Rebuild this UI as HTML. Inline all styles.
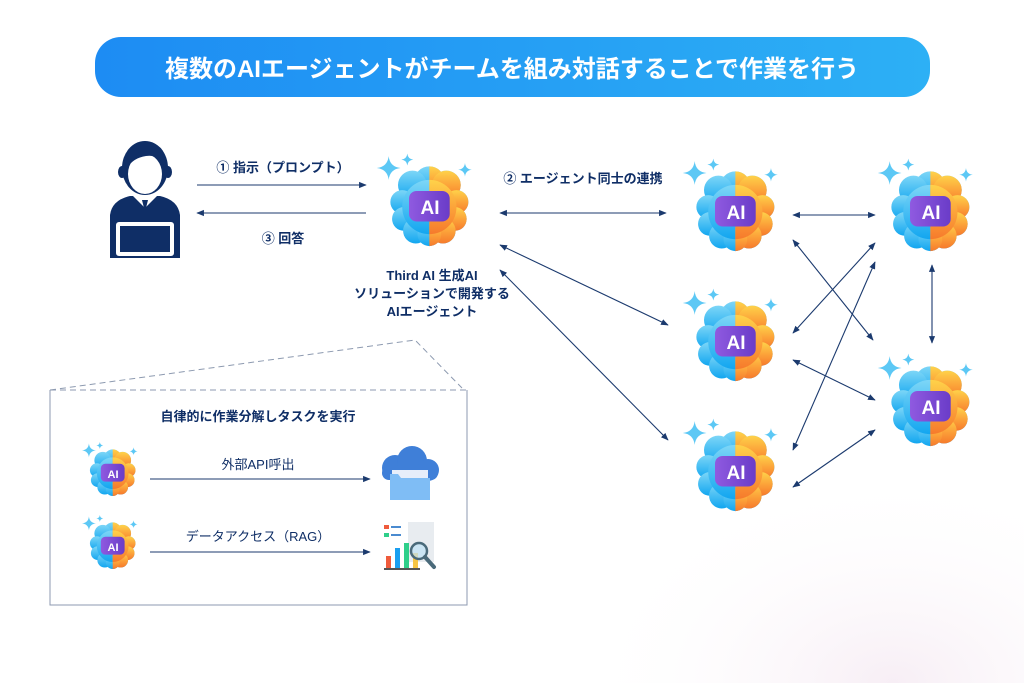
<!DOCTYPE html>
<html><head><meta charset="utf-8">
<style>
html,body{margin:0;padding:0;}
body{width:1024px;height:683px;overflow:hidden;background:#fff;position:relative;font-family:"Liberation Sans","Noto Sans CJK JP",sans-serif;}
svg{position:absolute;left:0;top:0;}
</style></head><body>
<svg width="1024" height="683" viewBox="0 0 1024 683" xmlns="http://www.w3.org/2000/svg">
<defs>
  <linearGradient id="hdr" x1="0" y1="0" x2="1" y2="0">
    <stop offset="0" stop-color="#1d8cf3"/><stop offset="1" stop-color="#2db0f5"/>
  </linearGradient>
  <linearGradient id="blue" x1="0" y1="0" x2="0" y2="1">
    <stop offset="0" stop-color="#7dd6f7"/><stop offset="1" stop-color="#12a6f0"/>
  </linearGradient>
  <linearGradient id="orange" x1="0" y1="0" x2="0" y2="1">
    <stop offset="0" stop-color="#fed24a"/><stop offset="0.5" stop-color="#fca43a"/><stop offset="1" stop-color="#f67a2c"/>
  </linearGradient>
  <linearGradient id="purple" x1="0" y1="0" x2="1" y2="0">
    <stop offset="0" stop-color="#8f5ae0"/><stop offset="1" stop-color="#6a3cc8"/>
  </linearGradient>
  <radialGradient id="bgp" cx="0.75" cy="1" r="0.6">
    <stop offset="0" stop-color="#f7eef5"/><stop offset="1" stop-color="#ffffff" stop-opacity="0"/>
  </radialGradient>
  <clipPath id="rh"><rect x="50" y="-10" width="60" height="120"/></clipPath>
  <g id="body">
    <circle cx="50" cy="22" r="18"/><circle cx="30" cy="26" r="17"/><circle cx="70" cy="26" r="17"/>
    <circle cx="18" cy="46" r="14"/><circle cx="82" cy="46" r="14"/><circle cx="20" cy="66" r="14"/>
    <circle cx="80" cy="66" r="14"/><circle cx="34" cy="80" r="15"/><circle cx="66" cy="80" r="15"/>
    <circle cx="50" cy="84" r="14"/><circle cx="50" cy="52" r="32"/>
  </g>
  <path id="sp" d="M0,-10 Q1,-1 10,0 Q1,1 0,10 Q-1,1 -10,0 Q-1,-1 0,-10Z"/>
  <symbol id="brain" viewBox="-20 -15 125 115">
    <use href="#sp" fill="#5cc8f5" transform="translate(2,6) scale(1.4)"/>
    <use href="#sp" fill="#5cc8f5" transform="translate(24,-4) scale(0.7)"/>
    <use href="#sp" fill="#5cc8f5" transform="translate(92,8) scale(0.8)"/>
    <use href="#body" fill="url(#blue)"/>
    <g clip-path="url(#rh)"><use href="#body" fill="url(#orange)"/></g>
    <rect x="26" y="33" width="48" height="36" rx="9" fill="url(#purple)"/>
  </symbol>
  <marker id="ah" viewBox="0 0 10 10" refX="9" refY="5" markerWidth="7" markerHeight="7" orient="auto-start-reverse">
    <path d="M0,1 L10,5 L0,9 Z" fill="#1b3a6e"/>
  </marker>
</defs>

<rect x="500" y="330" width="524" height="353" fill="url(#bgp)"/>

<!-- header -->
<rect x="95" y="37" width="835" height="60" rx="26" fill="url(#hdr)"/>
<text x="512" y="77" text-anchor="middle" font-size="24" font-weight="bold" fill="#fff">複数のAIエージェントがチームを組み対話することで作業を行う</text>

<!-- person -->
<g fill="#0f2e66">
  <path d="M110,258 L110,215 Q112,200 130,196 L160,196 Q178,200 180,215 L180,258 Z"/>
  <ellipse cx="145" cy="168" rx="23" ry="27"/>
  <ellipse cx="122" cy="172" rx="4" ry="6"/>
  <ellipse cx="168" cy="172" rx="4" ry="6"/>
</g>
<ellipse cx="145" cy="174" rx="17" ry="20" fill="#fff"/>
<path d="M126,170 Q124,144 146,143 Q168,143 165,168 Q160,154 146,156 Q132,158 126,170Z" fill="#0f2e66"/>
<path d="M133,196 L145,208 L157,196 Z" fill="#fff"/>
<path d="M142,200 L148,200 L146,208 L144,208Z" fill="#0f2e66"/>
<rect x="116" y="222" width="58" height="34" rx="3" fill="#fff"/>
<rect x="120" y="226" width="50" height="26" fill="#0f2e66"/>

<!-- arrows -->
<g stroke="#1b3a6e" stroke-width="1.1" fill="none">
  <line x1="197" y1="185" x2="366" y2="185" marker-end="url(#ah)"/>
  <line x1="366" y1="213" x2="197" y2="213" marker-end="url(#ah)"/>
  <line x1="500" y1="213" x2="666" y2="213" marker-start="url(#ah)" marker-end="url(#ah)"/>
  <line x1="500" y1="245" x2="668" y2="325" marker-start="url(#ah)" marker-end="url(#ah)"/>
  <line x1="500" y1="270" x2="668" y2="440" marker-start="url(#ah)" marker-end="url(#ah)"/>
  <line x1="793" y1="215" x2="875" y2="215" marker-start="url(#ah)" marker-end="url(#ah)"/>
  <line x1="793" y1="240" x2="873" y2="340" marker-start="url(#ah)" marker-end="url(#ah)"/>
  <line x1="793" y1="333" x2="875" y2="243" marker-start="url(#ah)" marker-end="url(#ah)"/>
  <line x1="793" y1="360" x2="875" y2="400" marker-start="url(#ah)" marker-end="url(#ah)"/>
  <line x1="793" y1="450" x2="875" y2="262" marker-start="url(#ah)" marker-end="url(#ah)"/>
  <line x1="793" y1="487" x2="875" y2="430" marker-start="url(#ah)" marker-end="url(#ah)"/>
  <line x1="932" y1="265" x2="932" y2="343" marker-start="url(#ah)" marker-end="url(#ah)"/>
  <line x1="150" y1="479" x2="370" y2="479" marker-end="url(#ah)"/>
  <line x1="150" y1="552" x2="370" y2="552" marker-end="url(#ah)"/>
</g>

<g fill="#0f2e66" font-weight="bold" font-size="13">
  <text x="283" y="172" text-anchor="middle">① 指示（プロンプト）</text>
  <text x="283" y="243" text-anchor="middle">③ 回答</text>
  <text x="583" y="183" text-anchor="middle">② エージェント同士の連携</text>
  <text x="432" y="280" text-anchor="middle">Third AI 生成AI</text>
  <text x="432" y="298" text-anchor="middle">ソリューションで開発する</text>
  <text x="432" y="316" text-anchor="middle">AIエージェント</text>
</g>

<!-- brains -->
<g>
  <use href="#brain" x="370" y="150" width="106" height="98"/>
  <use href="#brain" x="676" y="155" width="106" height="98"/>
  <use href="#brain" x="676" y="285" width="106" height="98"/>
  <use href="#brain" x="676" y="415" width="106" height="98"/>
  <use href="#brain" x="871" y="155" width="106" height="98"/>
  <use href="#brain" x="871" y="350" width="106" height="98"/>
  <use href="#brain" x="78" y="440" width="62" height="57"/>
  <use href="#brain" x="78" y="513" width="62" height="57"/>
</g>
<g fill="#fff" font-weight="bold" text-anchor="middle">
  <text x="430" y="214" font-size="19">AI</text>
  <text x="736" y="219" font-size="19">AI</text>
  <text x="736" y="349" font-size="19">AI</text>
  <text x="736" y="479" font-size="19">AI</text>
  <text x="931" y="219" font-size="19">AI</text>
  <text x="931" y="414" font-size="19">AI</text>
  <text x="113" y="478" font-size="11">AI</text>
  <text x="113" y="551" font-size="11">AI</text>
</g>

<!-- box -->
<g stroke="#8d9ab0" stroke-width="1" fill="none">
  <path d="M50,390 L50,605 L467,605 L467,390" />
  <path d="M50,390 L467,390" stroke-dasharray="6,4"/>
  <path d="M50,390 L415,340 L462,388" stroke-dasharray="6,4"/>
</g>
<text x="258" y="421" text-anchor="middle" font-size="13" font-weight="bold" fill="#0f2e66">自律的に作業分解しタスクを実行</text>
<text x="258" y="469" text-anchor="middle" font-size="13" fill="#0f2e66">外部API呼出</text>
<text x="258" y="541" text-anchor="middle" font-size="13" fill="#0f2e66">データアクセス（RAG）</text>

<!-- cloud folder -->
<g>
  <circle cx="395" cy="468" r="13" fill="#3f7fd8"/>
  <circle cx="412" cy="461" r="15" fill="#3f7fd8"/>
  <circle cx="428" cy="470" r="11" fill="#3f7fd8"/>
  <rect x="382" y="466" width="56" height="14" rx="7" fill="#3f7fd8"/>
  <rect x="392" y="470" width="36" height="10" fill="#e6eefa"/>
  <path d="M390,474 L398,474 L401,478 L430,478 L430,500 L390,500 Z" fill="#7fbdf5"/>
</g>
<!-- data icon -->
<g>
  <rect x="408" y="522" width="26" height="40" fill="#e8ecf0"/>
  <rect x="384" y="525" width="5" height="4" fill="#ef5b3c"/><rect x="391" y="526" width="10" height="2" fill="#4a8bd0"/>
  <rect x="384" y="533" width="5" height="4" fill="#2fcf8a"/><rect x="391" y="534" width="10" height="2" fill="#4a8bd0"/>
  <rect x="386" y="556" width="5" height="12" fill="#ef5b3c"/>
  <rect x="395" y="548" width="5" height="20" fill="#1a9ff0"/>
  <rect x="404" y="543" width="5" height="25" fill="#2fcf8a"/>
  <rect x="413" y="553" width="5" height="15" fill="#f6c444"/>
  <rect x="384" y="568" width="36" height="2" fill="#555"/>
  <circle cx="419" cy="551" r="8" fill="#bfe3f5" fill-opacity="0.7" stroke="#4a6a7a" stroke-width="2.5"/>
  <line x1="425" y1="557" x2="434" y2="567" stroke="#4a6a7a" stroke-width="4" stroke-linecap="round"/>
</g>
</svg>
</body></html>
